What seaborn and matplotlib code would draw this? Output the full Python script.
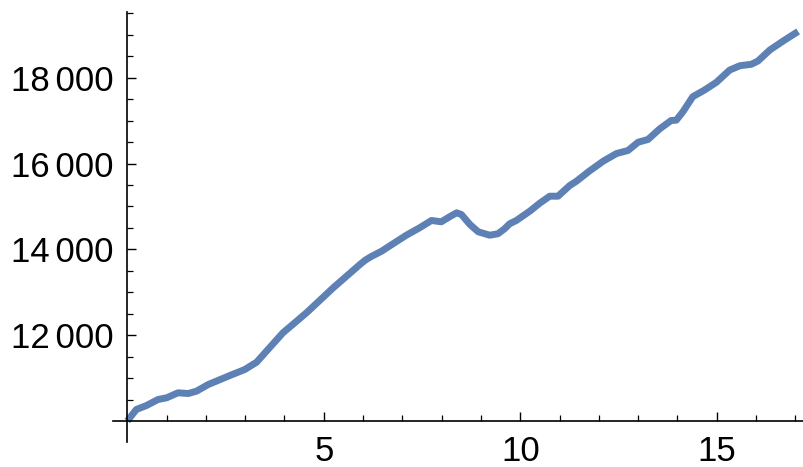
import matplotlib
matplotlib.use("Agg")
import matplotlib.pyplot as plt
from matplotlib.ticker import FixedLocator, FuncFormatter
import seaborn as sns
import pandas as pd

# Series values (time, value)
t = [0, 0.23, 0.49, 0.78, 1.0, 1.29, 1.55, 1.76, 2.06, 2.61, 2.99, 3.29,
     3.58, 3.96, 4.56, 5.24, 5.92, 6.05, 6.2, 6.47, 6.76, 7.1, 7.44, 7.74,
     7.99, 8.2, 8.38, 8.5, 8.72, 8.93, 9.22, 9.43, 9.6, 9.73, 9.9, 10.24,
     10.5, 10.75, 10.96, 11.26, 11.43, 11.75, 12.11, 12.45, 12.74, 13.0,
     13.25, 13.55, 13.84, 13.97, 14.14, 14.39, 14.69, 14.99, 15.33, 15.59,
     15.88, 16.05, 16.35, 16.69, 17.07]
value = [10000, 10268, 10361, 10500, 10540, 10657, 10640, 10695, 10850,
         11060, 11200, 11370, 11667, 12055, 12522, 13105, 13648, 13745,
         13830, 13958, 14130, 14330, 14504, 14674, 14643, 14760, 14853,
         14814, 14580, 14410, 14331, 14364, 14480, 14597, 14674, 14890,
         15080, 15240, 15240, 15490, 15590, 15820, 16056, 16235, 16305,
         16499, 16562, 16811, 17005, 17012, 17210, 17560, 17716, 17895,
         18181, 18282, 18315, 18392, 18648, 18858, 19080]

x_major = [5, 10, 15]
x_minor = [1, 2, 3, 4, 6, 7, 8, 9, 11, 12, 13, 14, 16, 17]
y_major = [12000, 14000, 16000, 18000]
y_minor = [10500, 11000, 11500, 12500, 13000, 13500, 14500, 15000, 15500,
           16500, 17000, 17500, 18500, 19000, 19500]

sns.set_style("white")
plt.rcParams["font.family"] = ["Liberation Sans", "DejaVu Sans"]

df = pd.DataFrame({"t": t, "value": value})

fig = plt.figure(figsize=(8.04, 4.67), dpi=100)
ax = fig.add_axes([113 / 804, 1 - 441.7 / 467, 1 - 113 / 804, (441.7 - 12.3) / 467])

sns.lineplot(data=df, x="t", y="value", ax=ax, color="#5E81B5",
             linewidth=5.0, solid_capstyle="butt", solid_joinstyle="round",
             clip_on=False)

ax.set_xlim(-0.364, 17.22)
ax.set_ylim(9517, 19527)

# Axes cross at the origin (0, 10000)
ax.spines["left"].set_position(("data", 0))
ax.spines["bottom"].set_position(("data", 10000))
for side in ("top", "right"):
    ax.spines[side].set_visible(False)
for side in ("left", "bottom"):
    ax.spines[side].set_linewidth(1.2)
    ax.spines[side].set_color("black")

ax.xaxis.set_major_locator(FixedLocator(x_major))
ax.xaxis.set_minor_locator(FixedLocator(x_minor))
ax.yaxis.set_major_locator(FixedLocator(y_major))
ax.yaxis.set_minor_locator(FixedLocator(y_minor))

def thousands(v, pos):
    v = int(round(v))
    if v >= 10000:
        s = f"{v:d}"
        return s[:-3] + "\u200a\u200a" + s[-3:]
    return f"{v:d}"

ax.yaxis.set_major_formatter(FuncFormatter(thousands))
ax.xaxis.set_major_formatter(FuncFormatter(lambda v, p: f"{int(v)}"))

ax.tick_params(which="both", bottom=True, left=True, top=False, right=False)
ax.tick_params(which="major", direction="in", length=6.5, width=1.0,
               color="black", labelsize=25, labelcolor="black")
ax.tick_params(which="minor", direction="in", length=4, width=0.9, color="black")
ax.tick_params(axis="x", which="major", pad=10)
ax.tick_params(axis="y", which="major", pad=10)

ax.set_xlabel("")
ax.set_ylabel("")
ax.grid(False)

fig.savefig("out.png", dpi=100)
